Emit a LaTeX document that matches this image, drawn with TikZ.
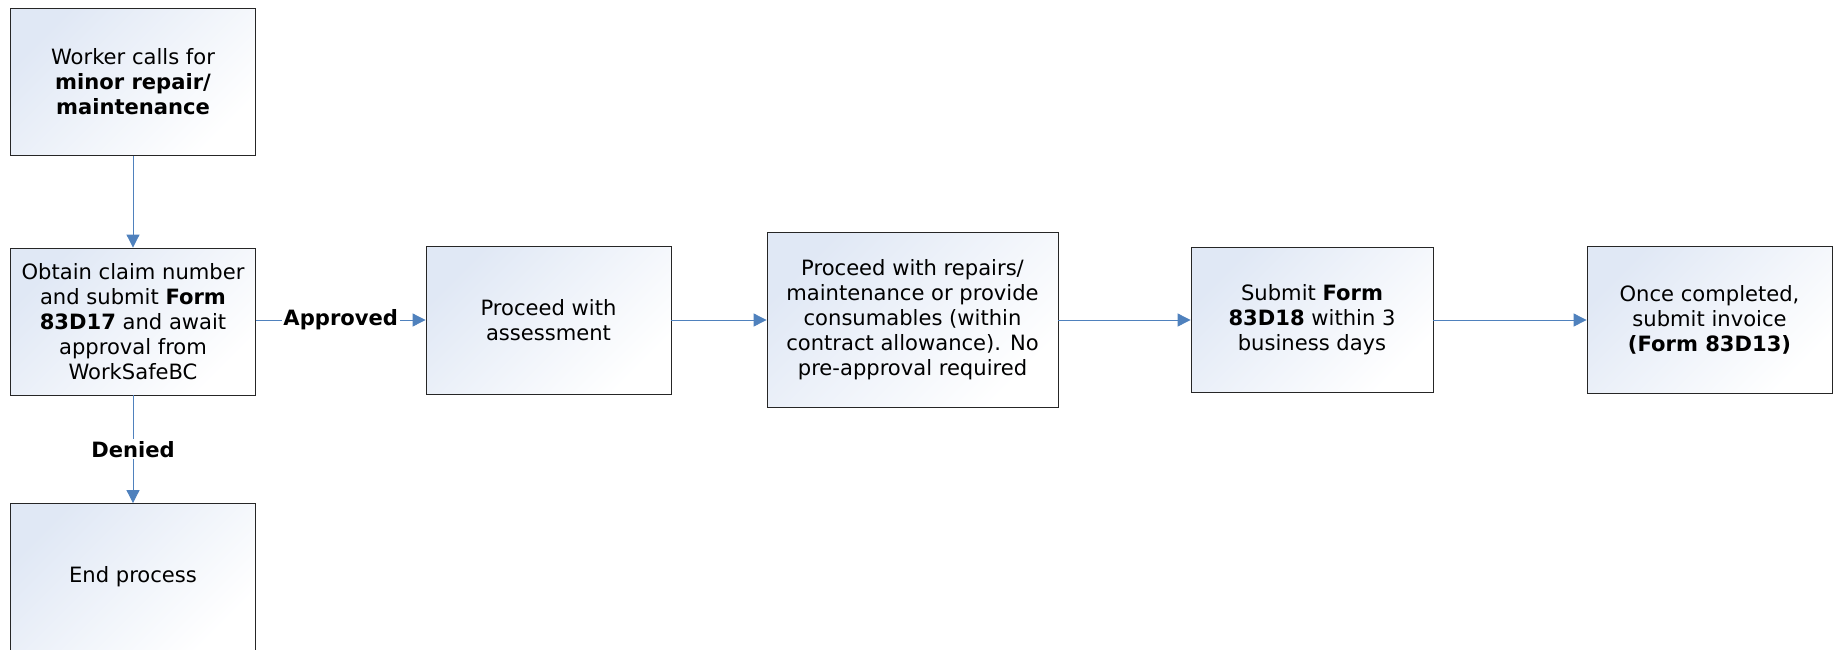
\documentclass[tikz,border=0pt]{standalone}
\usepackage{fontspec}
\setmainfont{DejaVu Sans}
\usetikzlibrary{arrows.meta,positioning}
\definecolor{boxblue}{RGB}{224,232,245}
\definecolor{lineblue}{RGB}{79,129,189}

\begin{document}
\begin{tikzpicture}[
  x=0.02cm, y=-0.02cm,
  font=\fontsize{12}{14.2}\selectfont,
  proc/.style={draw=black!85, line width=0.5pt, top color=boxblue, bottom color=white,
               shading angle=45, minimum width=4.9cm, minimum height=2.94cm,
               align=center, inner sep=2pt},
  arr/.style={draw=lineblue, line width=0.5pt, -{Triangle[length=2.6mm, width=2.6mm]}},
  lbl/.style={fill=white, font=\fontsize{12}{14.2}\selectfont\bfseries, inner sep=1pt}
]
\useasboundingbox (0,0) rectangle (1834,649);
\node[proc] (call) at (133,82) {Worker calls for\\ \textbf{minor repair/}\\ \textbf{maintenance}};
\node[proc] (claim) at (133,321.5) {Obtain claim number\\ and submit \textbf{Form}\\ \textbf{83D17} and await\\ approval from\\ WorkSafeBC};
\node[proc] (endp) at (133,577) {End process};
\node[proc, minimum height=2.96cm] (assess) at (548.5,320) {Proceed with\\ assessment};
\node[proc, minimum width=5.82cm, minimum height=3.5cm] (repair) at (912.5,319.5)
  {Proceed with repairs/\\ maintenance or provide\\ consumables (within\\ contract allowance). No\\ pre-approval required};
\node[proc, minimum width=4.84cm, minimum height=2.9cm] (form) at (1312,319.5) {Submit \textbf{Form}\\ \textbf{83D18} within 3\\ business days};
\node[proc] (invoice) at (1709.5,319.5) {Once completed,\\ submit invoice\\ \textbf{(Form 83D13)}};

\draw[arr] (call) -- (claim);
\draw[arr] (claim) -- node[lbl] {Denied} (endp);
\draw[arr] (claim.east |- 0,320) -- node[lbl] {Approved} (assess.west |- 0,320);
\draw[arr] (assess.east |- 0,320) -- (repair.west |- 0,320);
\draw[arr] (repair.east |- 0,320) -- (form.west |- 0,320);
\draw[arr] (form.east |- 0,320) -- (invoice.west |- 0,320);
\end{tikzpicture}
\end{document}
